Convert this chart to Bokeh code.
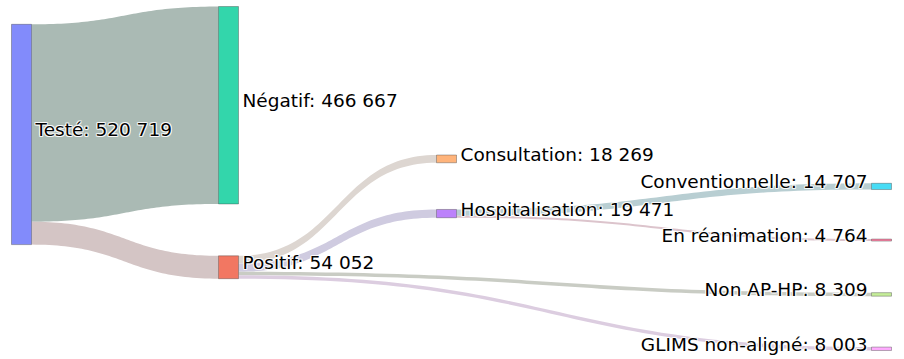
import numpy as np
from bokeh.plotting import figure
from bokeh.models import Range1d
from bokeh.core.properties import value
from bokeh.embed import file_html
from bokeh.resources import INLINE

# ---- data ----
labels = ["Testé", "Négatif", "Positif", "Consultation", "Hospitalisation",
          "Conventionnelle", "En réanimation", "Non AP-HP", "GLIMS non-aligné"]
link_source = [0, 0, 2, 2, 2, 2, 4, 4]
link_target = [1, 2, 3, 4, 7, 8, 5, 6]
link_value = [466667, 54052, 18269, 19471, 8309, 8003, 14707, 4764]

# ---- arrangement (like plotly node.x / node.y) and styles ----
node_x = [0.0, 0.2407, 0.2407, 0.4942, 0.4942, 1.0, 1.0, 1.0, 1.0]
node_y = [0.372, 0.287, 0.758, 0.443, 0.602, 0.523, 0.679, 0.837, 0.995]
node_colors = ["#636efa", "#00cc96", "#ef553b", "#ffa15a", "#ab63fa",
               "#19d3f3", "#ff6692", "#b6e880", "#ff97ff"]
link_colors = ["#aabab4", "#d4c5c5", "#ddd6d1", "#cfcbe0", "#c9ccc4",
               "#dccde0", "#b8ced2", "#dcc4cc"]

X0, X1 = 11, 891
Y0, Y1 = 6, 350
NODE_W = 20
KY = 0.000423

n = len(labels)
vin = [0] * n
vout = [0] * n
for s, t, v in zip(link_source, link_target, link_value):
    vout[s] += v
    vin[t] += v
node_val = [max(a, b) for a, b in zip(vin, vout)]

left = [X0 + fx * (X1 - X0 - NODE_W) for fx in node_x]
right = [l + NODE_W for l in left]
cy = [Y0 + fy * (Y1 - Y0) for fy in node_y]
h = [v * KY for v in node_val]
top = [c - hh / 2 for c, hh in zip(cy, h)]
bot = [c + hh / 2 for c, hh in zip(cy, h)]

# link stacking
L = len(link_value)
src_off = [0.0] * L
tgt_off = [0.0] * L
for i in range(n):
    outs = sorted([k for k in range(L) if link_source[k] == i], key=lambda k: cy[link_target[k]])
    acc = top[i]
    for k in outs:
        src_off[k] = acc
        acc += link_value[k] * KY
    ins = sorted([k for k in range(L) if link_target[k] == i], key=lambda k: cy[link_source[k]])
    acc = top[i]
    for k in ins:
        tgt_off[k] = acc
        acc += link_value[k] * KY

t = np.linspace(0, 1, 60)
def bez(xa, ya, xb, yb):
    xm = (xa + xb) / 2
    bx = (1 - t) ** 3 * xa + 3 * (1 - t) ** 2 * t * xm + 3 * (1 - t) * t ** 2 * xm + t ** 3 * xb
    by = (1 - t) ** 3 * ya + 3 * (1 - t) ** 2 * t * ya + 3 * (1 - t) * t ** 2 * yb + t ** 3 * yb
    return bx, by

xs, ys = [], []
for k in range(L):
    s, g = link_source[k], link_target[k]
    w = link_value[k] * KY
    xa, xb = right[s], left[g]
    tx, ty = bez(xa, src_off[k], xb, tgt_off[k])
    bx, by = bez(xb, tgt_off[k] + w, xa, src_off[k] + w)
    xs.append(list(np.concatenate([tx, bx])))
    ys.append(list(np.concatenate([ty, by])))

p = figure(width=904, height=359, x_range=Range1d(0, 904), y_range=Range1d(359, 0),
           output_backend="svg", toolbar_location=None, min_border=0)
p.axis.visible = False
p.grid.visible = False
p.outline_line_color = None
p.background_fill_color = "white"
p.border_fill_color = "white"

p.patches(xs, ys, fill_color=link_colors, line_color=None)
p.quad(left=left, right=right, top=top, bottom=bot, fill_color=node_colors,
       fill_alpha=0.8, line_color="#444444", line_alpha=0.8, line_width=0.5)

def fmt(v):
    return f"{v:,}".replace(",", " ")

txt = [f"{lab}: {fmt(v)}" for lab, v in zip(labels, node_val)]
lx, ly, ltxt, rx, ry, rtxt = [], [], [], [], [], []
for i in range(n):
    if node_x[i] < 1.0:
        lx.append(right[i] + 4); ly.append(cy[i]); ltxt.append(txt[i])
    else:
        rx.append(left[i] - 4); ry.append(cy[i]); rtxt.append(txt[i])

font = value("DejaVu Sans")
FS = "18.5px"
YO = -4.5
for (ax, ay, at, align) in [(lx, ly, ltxt, "left"), (rx, ry, rtxt, "right")]:
    for dx, dy in [(-1, -1), (1, -1), (-1, 1), (1, 1), (0, -1), (0, 1), (-1, 0), (1, 0)]:
        p.text(x=ax, y=ay, text=at, text_font=font, text_font_size=FS,
               text_color="white", text_alpha=0.7, text_align=align,
               text_baseline="alphabetic", x_offset=dx, y_offset=YO + dy)
    p.text(x=ax, y=ay, text=at, text_font=font, text_font_size=FS,
           text_color="black", text_align=align, text_baseline="alphabetic",
           y_offset=YO)

open("out.html", "w").write(file_html(p, INLINE))
